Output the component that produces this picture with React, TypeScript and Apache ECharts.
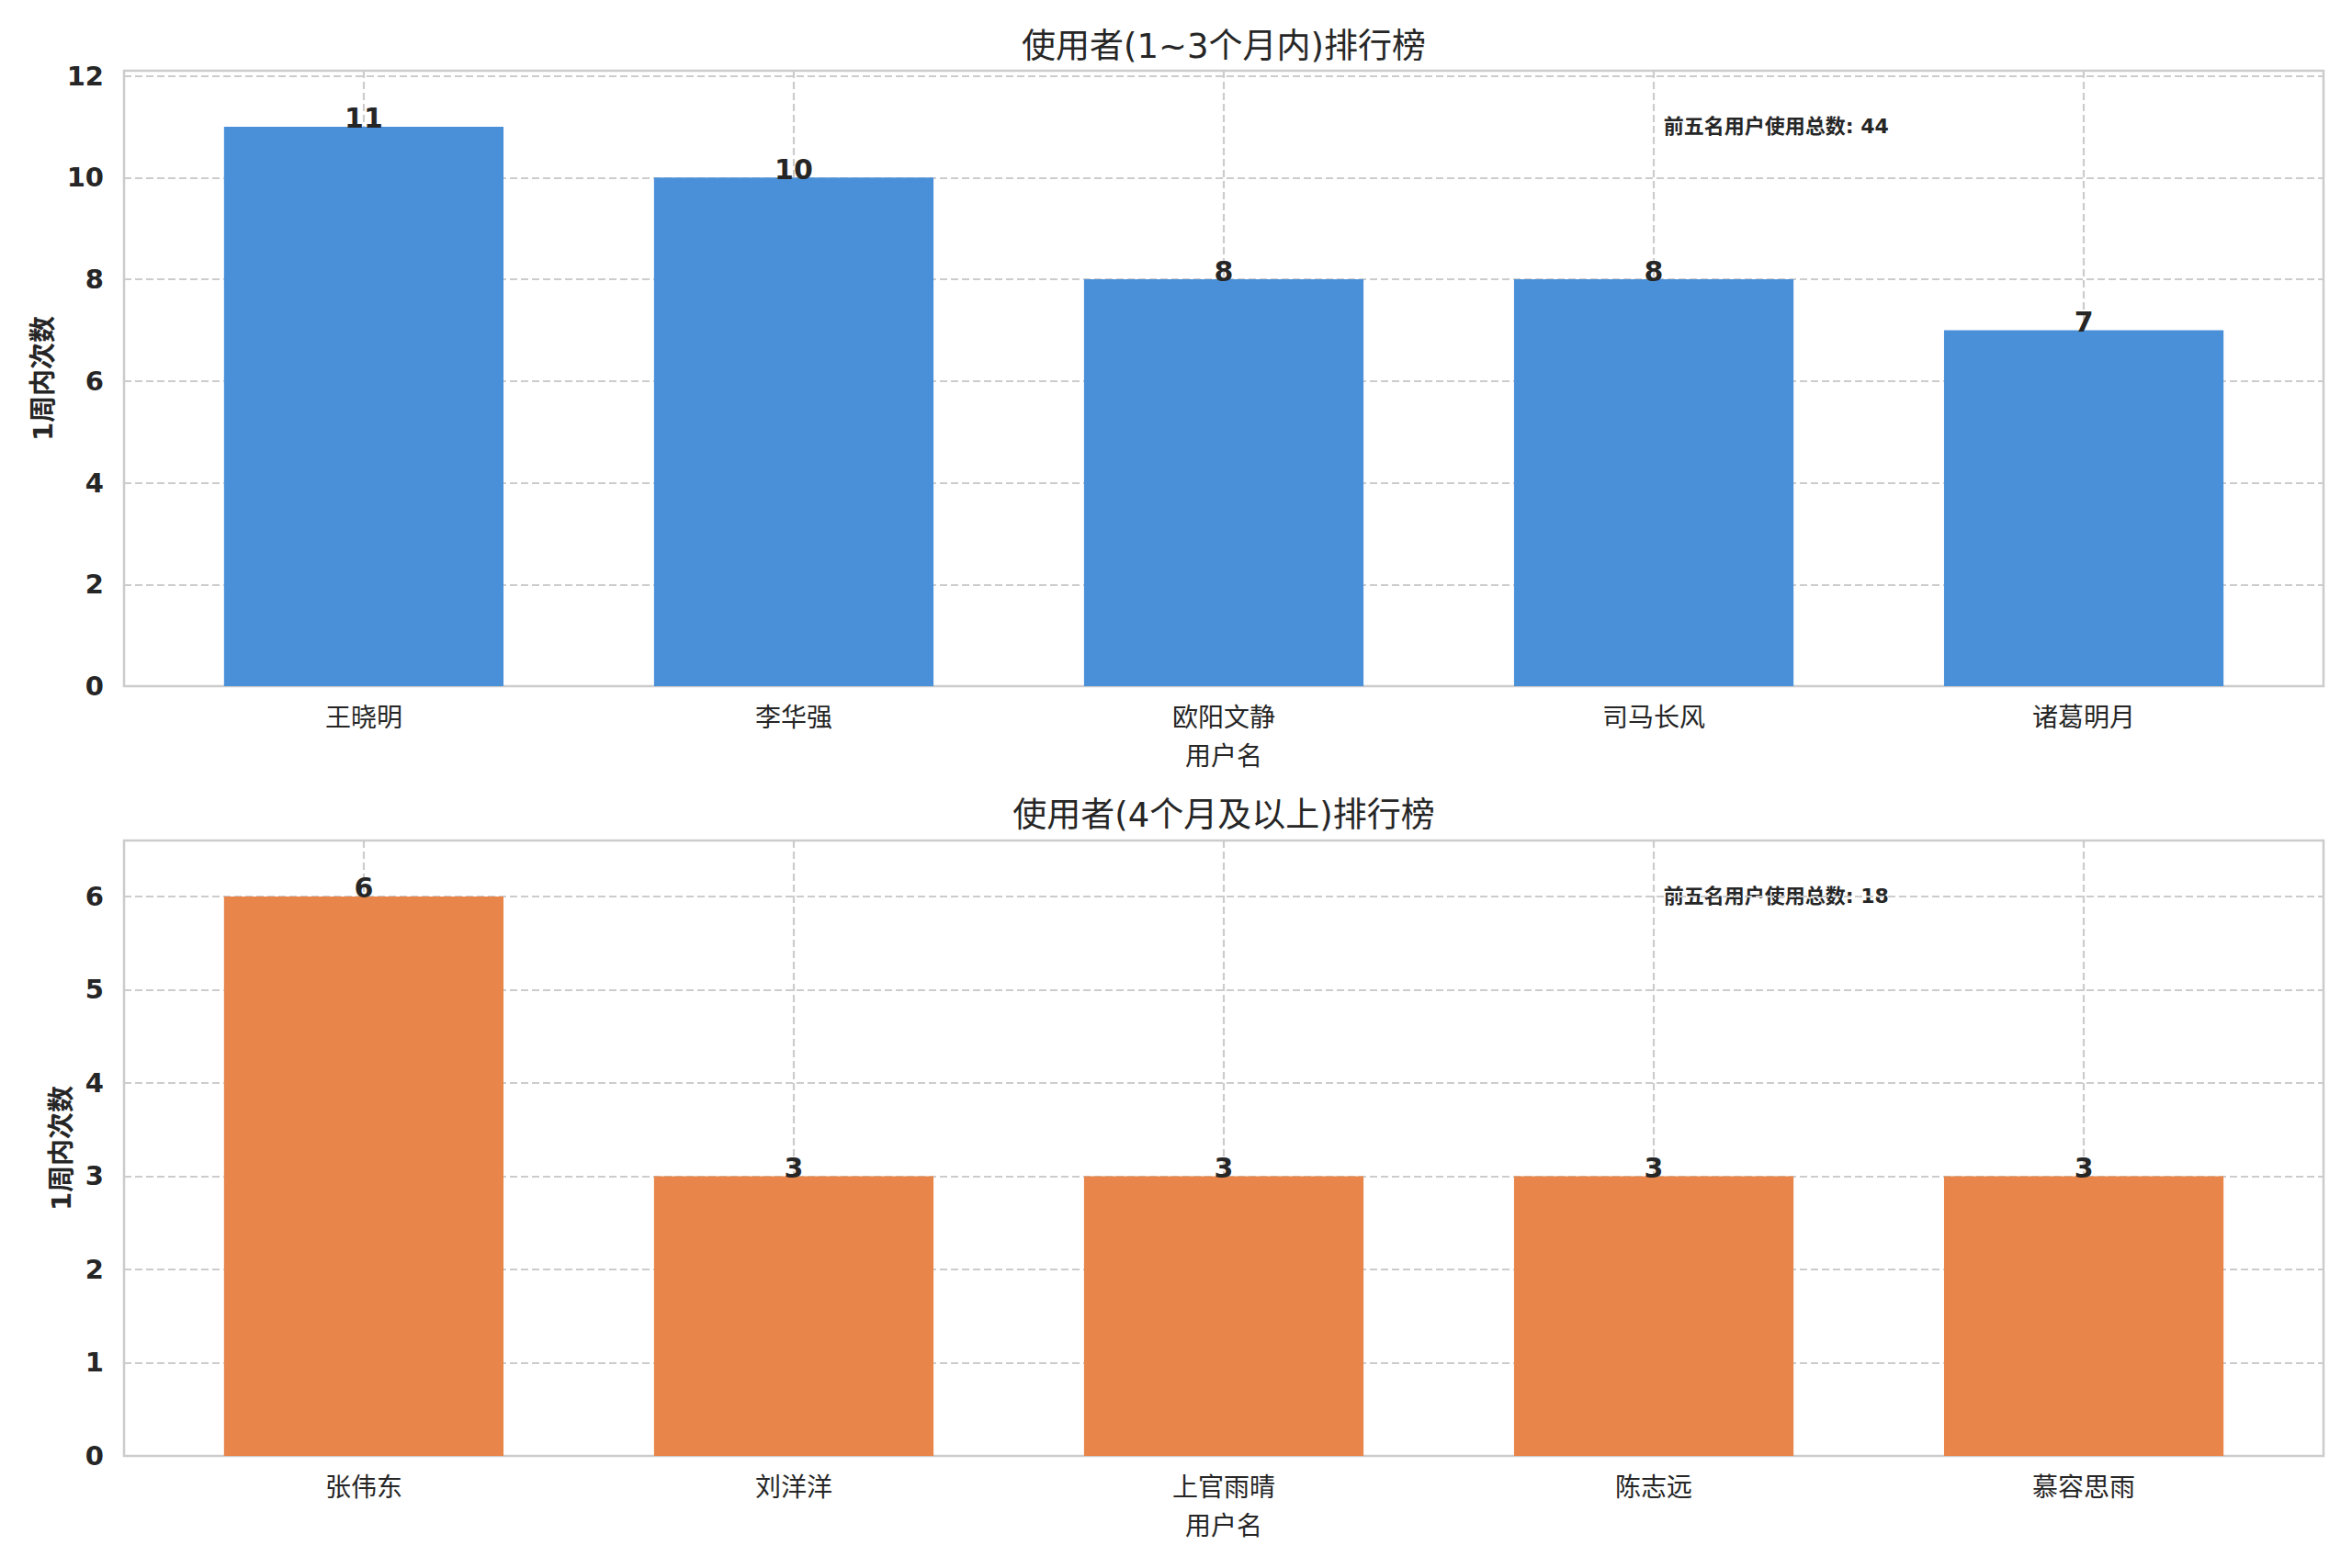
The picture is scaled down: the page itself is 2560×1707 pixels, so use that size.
import React, { useEffect, useRef } from "react";
import * as echarts from "echarts";

// ---- text ----
const topTitle = "使用者(1~3个月内)排行榜";
const bottomTitle = "使用者(4个月及以上)排行榜";
const xAxisName = "用户名";
const yAxisName = "1周内次数";
const annotationLabel = "前五名用户使用总数";

// ---- data ----
const topCategories = ["王晓明", "李华强", "欧阳文静", "司马长风", "诸葛明月"];
const topValues = [11, 10, 8, 8, 7];
const bottomCategories = ["张伟东", "刘洋洋", "上官雨晴", "陈志远", "慕容思雨"];
const bottomValues = [6, 3, 3, 3, 3];

// ---- axis limits ----
const topYMax = 12.1;
const topYInterval = 2;
const bottomYMax = 6.6;
const bottomYInterval = 1;
const xMin = -0.5575;
const xMax = 4.5575;

const FONT = "'DejaVu Sans', 'Noto Sans CJK SC', sans-serif";
const TEXT = "#262626";
const GRID_COLOR = "#cccccc";
const BLUE = "#4A90D9";
const ORANGE = "#E8854A";

const PLOT_LEFT = 135;
const PLOT_WIDTH = 2394;
const PLOT_HEIGHT = 670;
const TOP_PLOT_TOP = 77;
const BOTTOM_PLOT_TOP = 915;

const sum = (a: number[]) => a.reduce((s, v) => s + v, 0);

function makeXAxis(gridIndex: number, cats: string[]) {
  return {
    type: "value",
    gridIndex,
    min: xMin,
    max: xMax,
    splitNumber: 5,
    name: xAxisName,
    nameLocation: "middle",
    nameGap: 62,
    nameTextStyle: { fontFamily: FONT, fontSize: 28, color: TEXT },
    axisLine: { show: false },
    axisTick: { show: false },
    axisLabel: {
      fontFamily: FONT,
      fontSize: 28,
      color: TEXT,
      margin: 20,
      formatter: (v: number) => {
        const i = Math.round(v);
        return Math.abs(v - i) < 1e-6 && i >= 0 && i < cats.length ? cats[i] : "";
      },
    },
    splitLine: {
      show: true,
      showMinLine: false,
      showMaxLine: false,
      lineStyle: { color: GRID_COLOR, width: 2.2, type: [8, 4] },
    },
  };
}

function makeYAxis(gridIndex: number, max: number, interval: number, nameGap: number) {
  return {
    type: "value",
    gridIndex,
    min: 0,
    max,
    interval,
    name: yAxisName,
    nameLocation: "middle",
    nameGap,
    nameTextStyle: { fontFamily: FONT, fontSize: 29, fontWeight: "bold", color: TEXT },
    axisLine: { show: false },
    axisTick: { show: false },
    axisLabel: {
      fontFamily: FONT,
      fontSize: 29,
      fontWeight: "bold",
      color: TEXT,
      margin: 22,
      formatter: (v: number) => {
        const r = v / interval;
        return Math.abs(r - Math.round(r)) < 1e-6 ? String(Math.round(v)) : "";
      },
    },
    splitLine: {
      show: true,
      showMaxLine: false,
      lineStyle: { color: GRID_COLOR, width: 2.2, type: [8, 4] },
    },
  };
}

function makeSeries(idx: number, values: number[], color: string) {
  return {
    type: "bar",
    xAxisIndex: idx,
    yAxisIndex: idx,
    data: values.map((v, i) => [i, v]),
    barWidth: "65%",
    itemStyle: { color },
    label: {
      show: true,
      position: "top",
      distance: -6,
      fontFamily: FONT,
      fontSize: 30,
      fontWeight: "bold",
      color: TEXT,
      formatter: (p: any) => String(p.value[1]),
    },
  };
}

export default function App() {
  const ref = useRef<HTMLDivElement>(null);

  useEffect(() => {
    if (!ref.current) return;
    const chart = echarts.init(ref.current, null, { renderer: "svg" });
    const centerX = PLOT_LEFT + PLOT_WIDTH / 2;
    const annX = PLOT_LEFT + PLOT_WIDTH * 0.7;
    const option = {
      animation: false,
      backgroundColor: "#ffffff",
      grid: [
        {
          left: PLOT_LEFT,
          top: TOP_PLOT_TOP,
          width: PLOT_WIDTH,
          height: PLOT_HEIGHT,
          show: true,
          borderColor: GRID_COLOR,
          borderWidth: 2.5,
          backgroundColor: "#ffffff",
        },
        {
          left: PLOT_LEFT,
          top: BOTTOM_PLOT_TOP,
          width: PLOT_WIDTH,
          height: PLOT_HEIGHT,
          show: true,
          borderColor: GRID_COLOR,
          borderWidth: 2.5,
          backgroundColor: "#ffffff",
        },
      ],
      xAxis: [makeXAxis(0, topCategories), makeXAxis(1, bottomCategories)],
      yAxis: [
        makeYAxis(0, topYMax, topYInterval, 72),
        makeYAxis(1, bottomYMax, bottomYInterval, 52),
      ],
      series: [makeSeries(0, topValues, BLUE), makeSeries(1, bottomValues, ORANGE)],
      graphic: [
        {
          type: "text",
          x: centerX,
          y: 50,
          style: {
            text: topTitle,
            align: "center",
            verticalAlign: "middle",
            fontFamily: FONT,
            fontSize: 37,
            fill: TEXT,
          },
        },
        {
          type: "text",
          x: centerX,
          y: 887,
          style: {
            text: bottomTitle,
            align: "center",
            verticalAlign: "middle",
            fontFamily: FONT,
            fontSize: 37,
            fill: TEXT,
          },
        },
        {
          type: "text",
          x: annX,
          y: 137,
          style: {
            text: `${annotationLabel}: ${sum(topValues)}`,
            align: "left",
            verticalAlign: "middle",
            fontFamily: FONT,
            fontSize: 22,
            fontWeight: "bold",
            fill: TEXT,
          },
        },
        {
          type: "text",
          x: annX,
          y: 975,
          style: {
            text: `${annotationLabel}: ${sum(bottomValues)}`,
            align: "left",
            verticalAlign: "middle",
            fontFamily: FONT,
            fontSize: 22,
            fontWeight: "bold",
            fill: TEXT,
          },
        },
      ],
    };
    chart.setOption(option as any);
    return () => chart.dispose();
  }, []);

  return (
    <div
      ref={ref}
      style={{ position: "absolute", left: 0, top: 0, width: 2560, height: 1707, background: "#fff" }}
    />
  );
}
